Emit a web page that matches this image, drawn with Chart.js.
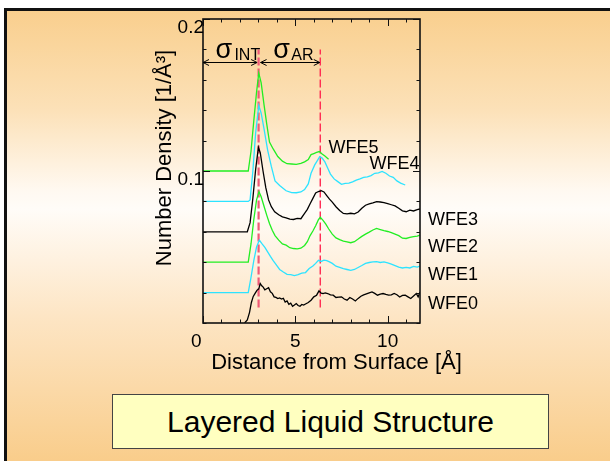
<!DOCTYPE html>
<html>
<head>
<meta charset="utf-8">
<script src="https://cdn.jsdelivr.net/npm/chart.js@4/dist/chart.umd.min.js"></script>
<style>
  html, body { margin: 0; padding: 0; background: #fff; }
  body { width: 610px; height: 461px; position: relative; overflow: hidden; font-family: "Liberation Sans", Arial, sans-serif; }
  #slide {
    position: absolute; left: 4px; top: 8px; width: 606px; height: 453px; box-sizing: border-box;
    border-top: 3px solid #111; border-left: 3px solid #111;
    background: linear-gradient(to bottom, #f9cf8e 0%, #fce1b8 22%, #fff9f1 40%, #fffcf8 44%, #fde5c4 68%, #f9cd8b 100%);
  }
  #plot { position: absolute; left: 0; top: 0; }
  #caption {
    position: absolute; left: 112px; top: 394px; width: 437px; height: 55px; box-sizing: border-box;
    border: 1px solid #444; background: #ffffc0;
    display: flex; align-items: center; justify-content: center;
    font-size: 30px; color: #000;
  }
</style>
</head>
<body>
<div id="slide"></div>
<canvas id="plot" width="610" height="461"></canvas>
<div id="caption">Layered Liquid Structure</div>
<script>
// density profiles, offset by 0.02 each
const wfe5X = [0, 2.45, 2.6, 2.75, 2.9, 3.02, 3.15, 3.3, 3.45, 3.6, 3.8, 4.05, 4.3, 4.55, 4.8, 5.05, 5.3, 5.5, 5.7, 5.85, 6.0, 6.15, 6.3, 6.45, 6.6, 6.8];
const wfe5Y = [0.1, 0.1, 0.113, 0.133, 0.152, 0.1644, 0.158, 0.144, 0.131, 0.119, 0.1145, 0.1095, 0.1065, 0.1048, 0.1046, 0.1044, 0.105, 0.106, 0.1075, 0.1108, 0.1115, 0.1122, 0.1128, 0.1112, 0.1098, 0.1078];

const wfe4X = [0, 2.45, 2.55, 2.7, 2.85, 3.02, 3.15, 3.3, 3.5, 3.7, 3.9, 4.15, 4.5, 4.8, 5.05, 5.3, 5.5, 5.7, 5.85, 6.05, 6.2, 6.32, 6.45, 6.6, 6.75, 6.9, 7.1, 7.3, 7.5, 7.7, 7.9, 8.1, 8.3, 8.5, 8.7, 8.9, 9.1, 9.3, 9.5, 9.7, 9.9, 10.1, 10.3, 10.5, 10.7, 10.95];
const wfe4Y = [0.08, 0.08, 0.081, 0.1, 0.125, 0.1432, 0.138, 0.128, 0.1138, 0.103, 0.0935, 0.0905, 0.087, 0.0858, 0.0857, 0.0862, 0.0878, 0.0915, 0.0985, 0.104, 0.107, 0.1094, 0.1085, 0.106, 0.102, 0.098, 0.0948, 0.093, 0.0912, 0.0918, 0.092, 0.0928, 0.094, 0.0948, 0.0958, 0.0962, 0.097, 0.0985, 0.0988, 0.0997, 0.0985, 0.0967, 0.0958, 0.0935, 0.092, 0.0908];

const wfe3X = [0, 2.4, 2.55, 2.7, 2.85, 3.0, 3.1, 3.25, 3.4, 3.55, 3.7, 3.88, 4.1, 4.3, 4.5, 4.7, 4.9, 5.1, 5.3, 5.5, 5.65, 5.8, 5.95, 6.1, 6.25, 6.4, 6.55, 6.7, 6.85, 7.0, 7.2, 7.4, 7.6, 7.8, 8.0, 8.2, 8.4, 8.6, 8.8, 9.0, 9.2, 9.4, 9.6, 9.8, 10.0, 10.2, 10.4, 10.6, 10.8, 11.0, 11.2, 11.4, 11.6, 11.75];
const wfe3Y = [0.06, 0.06, 0.066, 0.082, 0.101, 0.1155, 0.112, 0.1, 0.089, 0.081, 0.0765, 0.0732, 0.0712, 0.0698, 0.0692, 0.0683, 0.0681, 0.0688, 0.0686, 0.0721, 0.0748, 0.0785, 0.082, 0.0855, 0.0865, 0.087, 0.0862, 0.0838, 0.0815, 0.0795, 0.0765, 0.074, 0.0721, 0.0718, 0.0722, 0.0718, 0.073, 0.0755, 0.0775, 0.0784, 0.079, 0.0798, 0.0796, 0.0792, 0.0786, 0.0778, 0.077, 0.0755, 0.0738, 0.0732, 0.0742, 0.0737, 0.0746, 0.075];

const wfe2X = [0, 2.45, 2.6, 2.75, 2.9, 3.03, 3.15, 3.3, 3.45, 3.6, 3.75, 3.9, 4.1, 4.3, 4.5, 4.7, 4.9, 5.1, 5.3, 5.5, 5.65, 5.8, 5.95, 6.1, 6.25, 6.35, 6.5, 6.65, 6.8, 7.0, 7.2, 7.4, 7.6, 7.8, 8.0, 8.2, 8.4, 8.6, 8.8, 9.0, 9.2, 9.4, 9.6, 9.8, 10.0, 10.2, 10.4, 10.6, 10.8, 11.0, 11.2, 11.4, 11.6, 11.75];
const wfe2Y = [0.04, 0.04, 0.052, 0.068, 0.081, 0.0864, 0.083, 0.077, 0.071, 0.0655, 0.061, 0.0575, 0.0545, 0.052, 0.0512, 0.0495, 0.049, 0.0488, 0.0492, 0.051, 0.0535, 0.0575, 0.0605, 0.064, 0.068, 0.0695, 0.0675, 0.065, 0.062, 0.0585, 0.056, 0.0548, 0.0538, 0.0534, 0.0528, 0.0535, 0.0552, 0.057, 0.0585, 0.0598, 0.0612, 0.0622, 0.0615, 0.0608, 0.0602, 0.0595, 0.0585, 0.0575, 0.0558, 0.0556, 0.0563, 0.0568, 0.0572, 0.0578];

const wfe1X = [0, 2.45, 2.6, 2.75, 2.9, 3.05, 3.2, 3.35, 3.5, 3.65, 3.8, 3.95, 4.15, 4.35, 4.55, 4.75, 4.95, 5.15, 5.35, 5.55, 5.75, 5.95, 6.1, 6.25, 6.4, 6.55, 6.7, 6.85, 7.0, 7.2, 7.4, 7.6, 7.8, 8.0, 8.2, 8.4, 8.6, 8.8, 9.0, 9.2, 9.4, 9.6, 9.8, 10.0, 10.2, 10.4, 10.6, 10.8, 11.0, 11.2, 11.4, 11.6, 11.75];
const wfe1Y = [0.02, 0.02, 0.03, 0.041, 0.05, 0.0545, 0.052, 0.0498, 0.0468, 0.0438, 0.041, 0.0385, 0.0352, 0.0335, 0.032, 0.0318, 0.0312, 0.0318, 0.0328, 0.0332, 0.0358, 0.0375, 0.0392, 0.0412, 0.0405, 0.0414, 0.041, 0.0402, 0.0392, 0.0374, 0.0366, 0.0358, 0.0352, 0.0346, 0.0352, 0.0365, 0.0378, 0.0392, 0.0398, 0.0402, 0.0404, 0.0398, 0.0402, 0.0395, 0.0388, 0.0378, 0.0368, 0.0362, 0.0366, 0.0362, 0.0372, 0.0368, 0.0374];

const wfe0X = [2.25, 2.4, 2.52, 2.62, 2.72, 2.82, 2.92, 3.02, 3.1, 3.18, 3.26, 3.35, 3.45, 3.55, 3.65, 3.75, 3.85, 3.95, 4.05, 4.15, 4.25, 4.35, 4.45, 4.55, 4.65, 4.75, 4.85, 4.95, 5.05, 5.15, 5.25, 5.35, 5.45, 5.55, 5.7, 5.85, 6.0, 6.15, 6.28, 6.4, 6.5, 6.62, 6.75, 6.9, 7.05, 7.2, 7.35, 7.5, 7.65, 7.8, 7.95, 8.1, 8.25, 8.4, 8.55, 8.7, 8.85, 9.0, 9.15, 9.3, 9.45, 9.6, 9.75, 9.9, 10.05, 10.2, 10.35, 10.5, 10.65, 10.8, 10.95, 11.1, 11.25, 11.4, 11.55, 11.65, 11.75];
const wfe0Y = [0, 0.002, 0.007, 0.0135, 0.0175, 0.0195, 0.0215, 0.0225, 0.026, 0.0245, 0.0236, 0.0218, 0.0225, 0.0232, 0.0205, 0.0195, 0.0172, 0.0168, 0.0161, 0.0165, 0.0158, 0.0163, 0.0138, 0.0145, 0.0123, 0.013, 0.011, 0.0118, 0.0128, 0.0115, 0.011, 0.0122, 0.0118, 0.0125, 0.0135, 0.015, 0.0172, 0.0183, 0.0211, 0.0196, 0.0194, 0.0198, 0.0194, 0.0185, 0.0183, 0.0168, 0.017, 0.0172, 0.0158, 0.015, 0.0168, 0.0158, 0.0145, 0.0162, 0.0176, 0.0185, 0.0192, 0.0198, 0.0204, 0.0195, 0.0183, 0.019, 0.0194, 0.0188, 0.0183, 0.0185, 0.0194, 0.0186, 0.0171, 0.0182, 0.0183, 0.0172, 0.0161, 0.0178, 0.0194, 0.0172, 0.0204];

// layer positions (sigma_INT, sigma_AR markers)
const layerX = [3.01, 6.35];
const layerYRange = [0.0102, 0.18];
const arrowY = 0.1717;

const xTicks = [0, 1, 2, 3, 4, 5, 6, 7, 8, 9, 10, 11];
const xLabelTicks = [0, 5, 10];
const yTicks = [0, 0.02, 0.04, 0.06, 0.08, 0.1, 0.12, 0.14, 0.16, 0.18, 0.2];
const yLabelTicks = [0.1, 0.2];

const seriesNames = ['WFE0', 'WFE1', 'WFE2', 'WFE3', 'WFE4', 'WFE5'];
// where each name sits, in data units
const nameAnchors = [
  { x: 12.18, y: 0.0095 },
  { x: 12.18, y: 0.0286 },
  { x: 12.18, y: 0.0468 },
  { x: 12.18, y: 0.0644 },
  { x: 9.02, y: 0.1011 },
  { x: 6.8, y: 0.1117 },
];

const FONT = '"Liberation Sans", Arial, sans-serif';
const GREEN = '#22ee22';
const CYAN = '#2de3ff';

function zip(xs, ys) {
  return xs.map((x, i) => ({ x, y: ys[i] }));
}

function profile(xs, ys, color) {
  return { data: zip(xs, ys), borderColor: color, borderWidth: 1.3, showLine: true, pointRadius: 0, tension: 0 };
}

function layerLine(x, color, width) {
  return {
    data: [{ x, y: layerYRange[0] }, { x, y: layerYRange[1] }],
    borderColor: color, borderWidth: width, borderDash: [8, 3], showLine: true, pointRadius: 0,
  };
}

function drawArrow(ctx, x1, x2, y) {
  ctx.beginPath();
  ctx.moveTo(x1, y);
  ctx.lineTo(x2, y);
  ctx.moveTo(x1 + 6, y - 3);
  ctx.lineTo(x1, y);
  ctx.lineTo(x1 + 6, y + 3);
  ctx.moveTo(x2 - 6, y - 3);
  ctx.lineTo(x2, y);
  ctx.lineTo(x2 - 6, y + 3);
  ctx.stroke();
}

const slideAxes = {
  id: 'slideAxes',
  afterDatasetsDraw(chart) {
    const { ctx, chartArea: a } = chart;
    const xs = chart.scales.x;
    const ys = chart.scales.y;
    ctx.save();
    ctx.strokeStyle = '#111';
    ctx.lineWidth = 1;
    ctx.beginPath();
    for (const v of xTicks) {
      const px = Math.round(xs.getPixelForValue(v)) + 0.5;
      const len = xLabelTicks.includes(v) ? 7 : 3.5;
      ctx.moveTo(px, a.bottom); ctx.lineTo(px, a.bottom - len);
      ctx.moveTo(px, a.top); ctx.lineTo(px, a.top + len);
    }
    for (const v of yTicks) {
      const py = Math.round(ys.getPixelForValue(v)) + 0.5;
      const len = yLabelTicks.includes(v) ? 7 : 3.5;
      ctx.moveTo(a.left, py); ctx.lineTo(a.left + len, py);
      ctx.moveTo(a.right, py); ctx.lineTo(a.right - len, py);
    }
    ctx.stroke();
    ctx.lineWidth = 1.6;
    ctx.strokeRect(a.left, a.top, a.right - a.left, a.bottom - a.top);

    // sigma arrows
    ctx.lineWidth = 1;
    ctx.strokeStyle = '#000';
    const ay = Math.round(ys.getPixelForValue(arrowY)) + 0.5;
    const l0 = xs.getPixelForValue(layerX[0]);
    const l1 = xs.getPixelForValue(layerX[1]);
    drawArrow(ctx, a.left, l0 - 1.5, ay);
    drawArrow(ctx, l0 + 2, l1 - 0.5, ay);
    ctx.restore();
  },
  afterDraw(chart) {
    const { ctx, chartArea: a } = chart;
    const xs = chart.scales.x;
    const ys = chart.scales.y;
    ctx.save();
    ctx.fillStyle = '#000';

    ctx.font = `19px ${FONT}`;
    ctx.textBaseline = 'alphabetic';
    for (const v of xLabelTicks) {
      const px = xs.getPixelForValue(v);
      if (v === xs.min) {
        ctx.textAlign = 'right';
        ctx.fillText(String(v), px - 1.5, a.bottom + 24);
      } else {
        ctx.textAlign = 'center';
        ctx.fillText(String(v), px, a.bottom + 24);
      }
    }
    ctx.textAlign = 'right';
    for (const v of yLabelTicks) {
      ctx.fillText(String(v), a.left + 1, ys.getPixelForValue(v) + 13.5);
    }

    ctx.font = `22px ${FONT}`;
    ctx.textAlign = 'center';
    ctx.fillText('Distance from Surface [Å]', a.left + 133.5, a.bottom + 45.5);
    ctx.save();
    ctx.translate(a.left - 38, a.top + 139);
    ctx.rotate(-Math.PI / 2);
    ctx.textBaseline = 'middle';
    ctx.fillText('Number Density [1/Å³]', 0, 0);
    ctx.restore();

    // series names
    ctx.font = `18px ${FONT}`;
    ctx.textAlign = 'left';
    ctx.textBaseline = 'alphabetic';
    seriesNames.forEach((name, i) => {
      const p = nameAnchors[i];
      ctx.fillText(name, xs.getPixelForValue(p.x), ys.getPixelForValue(p.y));
    });

    // sigma labels
    const base = ys.getPixelForValue(arrowY) - 2;
    ctx.font = `27px ${FONT}`;
    ctx.fillText('σ', xs.getPixelForValue(0.68), base - 2);
    ctx.fillText('σ', xs.getPixelForValue(3.81), base - 2);
    ctx.font = `16px ${FONT}`;
    ctx.fillText('INT', xs.getPixelForValue(1.7), base);
    ctx.fillText('AR', xs.getPixelForValue(4.78), base);
    ctx.restore();
  },
};

const chart = new Chart(document.getElementById('plot'), {
  type: 'scatter',
  data: {
    datasets: [
      profile(wfe0X, wfe0Y, '#000'),
      profile(wfe1X, wfe1Y, CYAN),
      profile(wfe2X, wfe2Y, GREEN),
      profile(wfe3X, wfe3Y, '#000'),
      profile(wfe4X, wfe4Y, CYAN),
      profile(wfe5X, wfe5Y, GREEN),
      layerLine(layerX[0], '#ef5a78', 2.2),
      layerLine(layerX[1], '#ff2a52', 1.4),
    ],
  },
  options: {
    responsive: false,
    animation: false,
    devicePixelRatio: 1,
    layout: { padding: { left: 203, top: 19, right: 190, bottom: 138 } },
    plugins: { legend: { display: false }, tooltip: { enabled: false } },
    scales: {
      x: { type: 'linear', min: 0, max: 11.75, display: false },
      y: { type: 'linear', min: 0, max: 0.2, display: false },
    },
  },
  plugins: [slideAxes],
});
</script>
</body>
</html>
